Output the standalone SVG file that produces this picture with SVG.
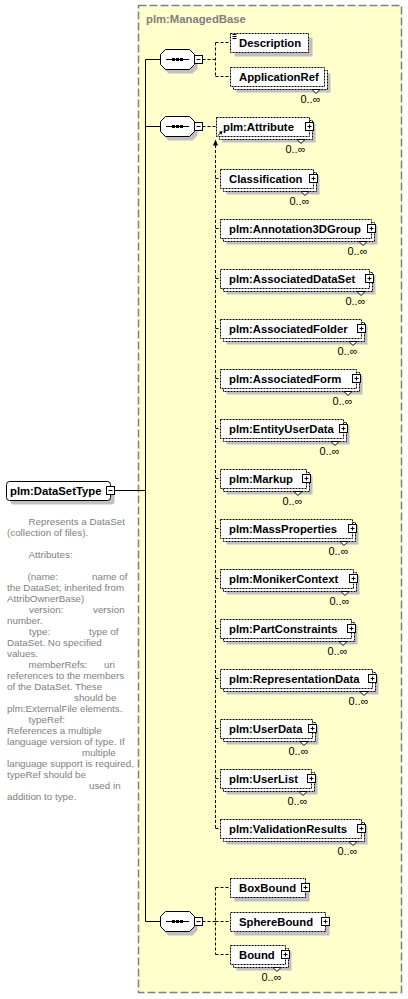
<svg xmlns="http://www.w3.org/2000/svg" xmlns:xlink="http://www.w3.org/1999/xlink" width="408" height="999" viewBox="0 0 408 999">
<style>
.bg{fill:#FFFFCC;stroke:#808080;stroke-width:1.5;stroke-dasharray:8 3}
.shadow{fill:#C0C0C0}
.box{fill:#fff;stroke:#000;stroke-width:1;stroke-dasharray:2 1}
.solidbox{fill:#fff;stroke:#000;stroke-width:1}
.icon{fill:#fff;stroke:#000;stroke-width:1}
.sign{fill:none;stroke:#000;stroke-width:1}
.notch{fill:#fff;stroke:#000;stroke-width:1}
.el{font-family:"Liberation Sans",Arial,sans-serif;font-weight:bold;font-size:11.3px;fill:#000}
.title{font-family:"Liberation Sans",Arial,sans-serif;font-weight:bold;font-size:11.3px;fill:#808080}
.occ{font-family:"Liberation Sans",Arial,sans-serif;font-size:11px;fill:#000;text-anchor:end}
.doc{font-family:"Liberation Sans",Arial,sans-serif;font-size:9.8px;fill:#808080}
.line{fill:none;stroke:#000;stroke-width:1}
.dash{fill:none;stroke:#000;stroke-width:1;stroke-dasharray:3 2}
</style>
<defs>
<g id="seqShape">
<polygon class="shadow" transform="translate(3,4)" points="165.5,-10 189.5,-10 194.5,-5 194.5,5 189.5,10 165.5,10 160.5,5 160.5,-5"/>
<polygon class="solidbox" points="165.5,-10 189.5,-10 194.5,-5 194.5,5 189.5,10 165.5,10 160.5,5 160.5,-5"/>
<path class="line" d="M166 0 H189"/>
<rect x="172" y="-1.5" width="3" height="3" fill="#000"/>
<rect x="176" y="-1.5" width="3" height="3" fill="#000"/>
<rect x="180" y="-1.5" width="3" height="3" fill="#000"/>
<rect class="icon" x="194.5" y="-4" width="8" height="8"/>
<path class="sign" d="M196.5 0 H200.5"/>
</g>
</defs>

<rect id="managedBase" class="bg" x="138.5" y="5.5" width="263" height="987"/>
<text class="title" x="146" y="23">plm:ManagedBase</text>

<g id="connectors">
<path class="line" d="M114.5 490.5 H145.5 M145.5 59.5 V921.5 M145.5 59.5 H160.5 M145.5 126.5 H160.5 M145.5 921.5 H160.5"/>
<path class="dash" d="M202.5 59.5 H215.5 M215.5 42.5 V76.5 M215.5 42.5 H230.5 M215.5 76.5 H230.5"/>
<path class="dash" d="M202.5 126.5 H216.5 M215.5 145 V828.5 M215.5 178.5 H220.5 M215.5 228.5 H220.5 M215.5 278.5 H220.5 M215.5 328.5 H220.5 M215.5 378.5 H220.5 M215.5 428.5 H220.5 M215.5 478.5 H220.5 M215.5 528.5 H220.5 M215.5 578.5 H220.5 M215.5 628.5 H220.5 M215.5 678.5 H220.5 M215.5 728.5 H220.5 M215.5 778.5 H220.5 M215.5 828.5 H220.5"/>
<polygon points="215.5,139.5 213,145.5 218,145.5" fill="#000"/>
<path class="dash" d="M202.5 921.5 H215.5 M215.5 887.5 V954.5 M215.5 887.5 H230.5 M215.5 921.5 H230.5 M215.5 954.5 H230.5"/>
</g>

<g id="DataSetType">
<rect class="shadow" x="10.5" y="485.5" width="104" height="19" rx="3"/>
<rect class="solidbox" x="6.5" y="481.5" width="104" height="19" rx="3"/>
<text class="el" x="10" y="495">plm:DataSetType</text>
<rect class="icon" x="106.5" y="486.5" width="8" height="8"/>
<path class="sign" d="M108.5 490.5 H112.5"/>
</g>

<g id="DataSetType-doc">
<text class="doc">
<tspan x="28.5" y="525">Represents a DataSet</tspan>
<tspan x="7" y="536">(collection of files).</tspan>
<tspan x="28.5" y="558">Attributes:</tspan>
<tspan x="27.5" y="580">(name:</tspan><tspan x="92" y="580">name of</tspan>
<tspan x="7" y="591">the DataSet; inherited from</tspan>
<tspan x="7" y="602">AttribOwnerBase)</tspan>
<tspan x="29" y="613">version:</tspan><tspan x="93" y="613">version</tspan>
<tspan x="7" y="624">number.</tspan>
<tspan x="29" y="635">type:</tspan><tspan x="89" y="635">type of</tspan>
<tspan x="7" y="646">DataSet. No specified</tspan>
<tspan x="7" y="657">values.</tspan>
<tspan x="28.5" y="668">memberRefs:</tspan><tspan x="104" y="668">uri</tspan>
<tspan x="7" y="679">references to the members</tspan>
<tspan x="7" y="690">of the DataSet. These</tspan>
<tspan x="74" y="701">should be</tspan>
<tspan x="7" y="712">plm:ExternalFile elements.</tspan>
<tspan x="28.5" y="723">typeRef:</tspan>
<tspan x="7" y="734">References a multiple</tspan>
<tspan x="7" y="745">language version of type. If</tspan>
<tspan x="82" y="756">multiple</tspan>
<tspan x="7" y="767">language support is required,</tspan>
<tspan x="7" y="778">typeRef should be</tspan>
<tspan x="89" y="789">used in</tspan>
<tspan x="7" y="800">addition to type.</tspan>
</text>
</g>

<g id="seq1" transform="translate(0,59.5)"><use xlink:href="#seqShape" href="#seqShape"/></g>
<g id="seq2" transform="translate(0,126.5)"><use xlink:href="#seqShape" href="#seqShape"/></g>
<g id="seq3" transform="translate(0,921.5)"><use xlink:href="#seqShape" href="#seqShape"/></g>

<g id="Description">
<rect class="shadow" x="234.5" y="37.5" width="78" height="19"/>
<rect class="box" x="230.5" y="33.5" width="78" height="19"/>
<path class="sign" d="M232.5 34.5 H236.5 M232.5 36.5 H236.5 M232.5 38.5 H236.5"/>
<text class="el" x="239" y="47">Description</text>
</g>

<g id="ApplicationRef">
<rect class="shadow" x="236.5" y="73.5" width="94" height="19"/>
<rect class="box" x="233.5" y="70.5" width="94" height="19"/>
<rect class="box" x="230.5" y="67.5" width="94" height="19"/>
<polygon class="notch" points="312,89.5 316,93.5 320,89.5"/>
<text class="el" x="239" y="81">ApplicationRef</text>
<text class="occ" x="320.5" y="103">0..∞</text>
</g>

<g id="Attribute">
<rect class="shadow" x="222.5" y="123.5" width="93" height="19"/>
<rect class="box" x="219.5" y="120.5" width="93" height="19"/>
<rect class="box" x="216.5" y="117.5" width="93" height="19"/>
<polygon class="notch" points="297,139.5 301,143.5 305,139.5"/>
<path class="sign" d="M218 135.5 L221.5 132"/>
<polygon points="222.5,131 218.8,131.8 221.7,134.7" fill="#000"/>
<text class="el" x="223" y="131">plm:Attribute</text>
<rect class="icon" x="305.5" y="122.5" width="8" height="8"/>
<path class="sign" d="M307.5 126.5 H311.5 M309.5 124.5 V128.5"/>
<text class="occ" x="305.5" y="153">0..∞</text>
</g>

<g id="Classification">
<rect class="shadow" x="226.5" y="175.5" width="93" height="19"/>
<rect class="box" x="223.5" y="172.5" width="93" height="19"/>
<rect class="box" x="220.5" y="169.5" width="93" height="19"/>
<polygon class="notch" points="301,191.5 305,195.5 309,191.5"/>
<text class="el" x="229" y="183">Classification</text>
<rect class="icon" x="309.5" y="174.5" width="8" height="8"/>
<path class="sign" d="M311.5 178.5 H315.5 M313.5 176.5 V180.5"/>
<text class="occ" x="309.5" y="205">0..∞</text>
</g>

<g id="Annotation3DGroup">
<rect class="shadow" x="226.5" y="225.5" width="151" height="19"/>
<rect class="box" x="223.5" y="222.5" width="151" height="19"/>
<rect class="box" x="220.5" y="219.5" width="151" height="19"/>
<polygon class="notch" points="359,241.5 363,245.5 367,241.5"/>
<text class="el" x="229" y="233">plm:Annotation3DGroup</text>
<rect class="icon" x="367.5" y="224.5" width="8" height="8"/>
<path class="sign" d="M369.5 228.5 H373.5 M371.5 226.5 V230.5"/>
<text class="occ" x="367.5" y="255">0..∞</text>
</g>

<g id="AssociatedDataSet">
<rect class="shadow" x="226.5" y="275.5" width="149" height="19"/>
<rect class="box" x="223.5" y="272.5" width="149" height="19"/>
<rect class="box" x="220.5" y="269.5" width="149" height="19"/>
<polygon class="notch" points="357,291.5 361,295.5 365,291.5"/>
<text class="el" x="229" y="283">plm:AssociatedDataSet</text>
<rect class="icon" x="365.5" y="274.5" width="8" height="8"/>
<path class="sign" d="M367.5 278.5 H371.5 M369.5 276.5 V280.5"/>
<text class="occ" x="365.5" y="305">0..∞</text>
</g>

<g id="AssociatedFolder">
<rect class="shadow" x="226.5" y="325.5" width="141" height="19"/>
<rect class="box" x="223.5" y="322.5" width="141" height="19"/>
<rect class="box" x="220.5" y="319.5" width="141" height="19"/>
<polygon class="notch" points="349,341.5 353,345.5 357,341.5"/>
<text class="el" x="229" y="333">plm:AssociatedFolder</text>
<rect class="icon" x="357.5" y="324.5" width="8" height="8"/>
<path class="sign" d="M359.5 328.5 H363.5 M361.5 326.5 V330.5"/>
<text class="occ" x="357.5" y="355">0..∞</text>
</g>

<g id="AssociatedForm">
<rect class="shadow" x="226.5" y="375.5" width="136" height="19"/>
<rect class="box" x="223.5" y="372.5" width="136" height="19"/>
<rect class="box" x="220.5" y="369.5" width="136" height="19"/>
<polygon class="notch" points="344,391.5 348,395.5 352,391.5"/>
<text class="el" x="229" y="383">plm:AssociatedForm</text>
<rect class="icon" x="352.5" y="374.5" width="8" height="8"/>
<path class="sign" d="M354.5 378.5 H358.5 M356.5 376.5 V380.5"/>
<text class="occ" x="352.5" y="405">0..∞</text>
</g>

<g id="EntityUserData">
<rect class="shadow" x="226.5" y="425.5" width="123" height="19"/>
<rect class="box" x="223.5" y="422.5" width="123" height="19"/>
<rect class="box" x="220.5" y="419.5" width="123" height="19"/>
<polygon class="notch" points="331,441.5 335,445.5 339,441.5"/>
<text class="el" x="229" y="433">plm:EntityUserData</text>
<rect class="icon" x="339.5" y="424.5" width="8" height="8"/>
<path class="sign" d="M341.5 428.5 H345.5 M343.5 426.5 V430.5"/>
<text class="occ" x="339.5" y="455">0..∞</text>
</g>

<g id="Markup">
<rect class="shadow" x="226.5" y="475.5" width="86" height="19"/>
<rect class="box" x="223.5" y="472.5" width="86" height="19"/>
<rect class="box" x="220.5" y="469.5" width="86" height="19"/>
<polygon class="notch" points="294,491.5 298,495.5 302,491.5"/>
<text class="el" x="229" y="483">plm:Markup</text>
<rect class="icon" x="302.5" y="474.5" width="8" height="8"/>
<path class="sign" d="M304.5 478.5 H308.5 M306.5 476.5 V480.5"/>
<text class="occ" x="302.5" y="505">0..∞</text>
</g>

<g id="MassProperties">
<rect class="shadow" x="226.5" y="525.5" width="132" height="19"/>
<rect class="box" x="223.5" y="522.5" width="132" height="19"/>
<rect class="box" x="220.5" y="519.5" width="132" height="19"/>
<polygon class="notch" points="340,541.5 344,545.5 348,541.5"/>
<text class="el" x="229" y="533">plm:MassProperties</text>
<rect class="icon" x="348.5" y="524.5" width="8" height="8"/>
<path class="sign" d="M350.5 528.5 H354.5 M352.5 526.5 V530.5"/>
<text class="occ" x="348.5" y="555">0..∞</text>
</g>

<g id="MonikerContext">
<rect class="shadow" x="226.5" y="575.5" width="133" height="19"/>
<rect class="box" x="223.5" y="572.5" width="133" height="19"/>
<rect class="box" x="220.5" y="569.5" width="133" height="19"/>
<polygon class="notch" points="341,591.5 345,595.5 349,591.5"/>
<text class="el" x="229" y="583">plm:MonikerContext</text>
<rect class="icon" x="349.5" y="574.5" width="8" height="8"/>
<path class="sign" d="M351.5 578.5 H355.5 M353.5 576.5 V580.5"/>
<text class="occ" x="349.5" y="605">0..∞</text>
</g>

<g id="PartConstraints">
<rect class="shadow" x="226.5" y="625.5" width="131" height="19"/>
<rect class="box" x="223.5" y="622.5" width="131" height="19"/>
<rect class="box" x="220.5" y="619.5" width="131" height="19"/>
<polygon class="notch" points="339,641.5 343,645.5 347,641.5"/>
<text class="el" x="229" y="633">plm:PartConstraints</text>
<rect class="icon" x="347.5" y="624.5" width="8" height="8"/>
<path class="sign" d="M349.5 628.5 H353.5 M351.5 626.5 V630.5"/>
<text class="occ" x="347.5" y="655">0..∞</text>
</g>

<g id="RepresentationData">
<rect class="shadow" x="226.5" y="675.5" width="152" height="19"/>
<rect class="box" x="223.5" y="672.5" width="152" height="19"/>
<rect class="box" x="220.5" y="669.5" width="152" height="19"/>
<polygon class="notch" points="360,691.5 364,695.5 368,691.5"/>
<text class="el" x="229" y="683">plm:RepresentationData</text>
<rect class="icon" x="368.5" y="674.5" width="8" height="8"/>
<path class="sign" d="M370.5 678.5 H374.5 M372.5 676.5 V680.5"/>
<text class="occ" x="368.5" y="705">0..∞</text>
</g>

<g id="UserData">
<rect class="shadow" x="226.5" y="725.5" width="92" height="19"/>
<rect class="box" x="223.5" y="722.5" width="92" height="19"/>
<rect class="box" x="220.5" y="719.5" width="92" height="19"/>
<polygon class="notch" points="300,741.5 304,745.5 308,741.5"/>
<text class="el" x="229" y="733">plm:UserData</text>
<rect class="icon" x="308.5" y="724.5" width="8" height="8"/>
<path class="sign" d="M310.5 728.5 H314.5 M312.5 726.5 V730.5"/>
<text class="occ" x="308.5" y="755">0..∞</text>
</g>

<g id="UserList">
<rect class="shadow" x="226.5" y="775.5" width="91" height="19"/>
<rect class="box" x="223.5" y="772.5" width="91" height="19"/>
<rect class="box" x="220.5" y="769.5" width="91" height="19"/>
<polygon class="notch" points="299,791.5 303,795.5 307,791.5"/>
<text class="el" x="229" y="783">plm:UserList</text>
<rect class="icon" x="307.5" y="774.5" width="8" height="8"/>
<path class="sign" d="M309.5 778.5 H313.5 M311.5 776.5 V780.5"/>
<text class="occ" x="307.5" y="805">0..∞</text>
</g>

<g id="ValidationResults">
<rect class="shadow" x="226.5" y="825.5" width="141" height="19"/>
<rect class="box" x="223.5" y="822.5" width="141" height="19"/>
<rect class="box" x="220.5" y="819.5" width="141" height="19"/>
<polygon class="notch" points="349,841.5 353,845.5 357,841.5"/>
<text class="el" x="229" y="833">plm:ValidationResults</text>
<rect class="icon" x="357.5" y="824.5" width="8" height="8"/>
<path class="sign" d="M359.5 828.5 H363.5 M361.5 826.5 V830.5"/>
<text class="occ" x="357.5" y="855">0..∞</text>
</g>

<g id="BoxBound">
<rect class="shadow" x="234.5" y="882.5" width="75" height="19"/>
<rect class="box" x="230.5" y="878.5" width="75" height="19"/>
<text class="el" x="239" y="892">BoxBound</text>
<rect class="icon" x="301.5" y="883.5" width="8" height="8"/>
<path class="sign" d="M303.5 887.5 H307.5 M305.5 885.5 V889.5"/>
</g>

<g id="SphereBound">
<rect class="shadow" x="234.5" y="916.5" width="95" height="19"/>
<rect class="box" x="230.5" y="912.5" width="95" height="19"/>
<text class="el" x="239" y="926">SphereBound</text>
<rect class="icon" x="321.5" y="917.5" width="8" height="8"/>
<path class="sign" d="M323.5 921.5 H327.5 M325.5 919.5 V923.5"/>
</g>

<g id="Bound">
<rect class="shadow" x="236.5" y="951.5" width="55" height="19"/>
<rect class="box" x="233.5" y="948.5" width="55" height="19"/>
<rect class="box" x="230.5" y="945.5" width="55" height="19"/>
<polygon class="notch" points="273,967.5 277,971.5 281,967.5"/>
<text class="el" x="239" y="959">Bound</text>
<rect class="icon" x="281.5" y="950.5" width="8" height="8"/>
<path class="sign" d="M283.5 954.5 H287.5 M285.5 952.5 V956.5"/>
<text class="occ" x="281.5" y="981">0..∞</text>
</g>
</svg>
